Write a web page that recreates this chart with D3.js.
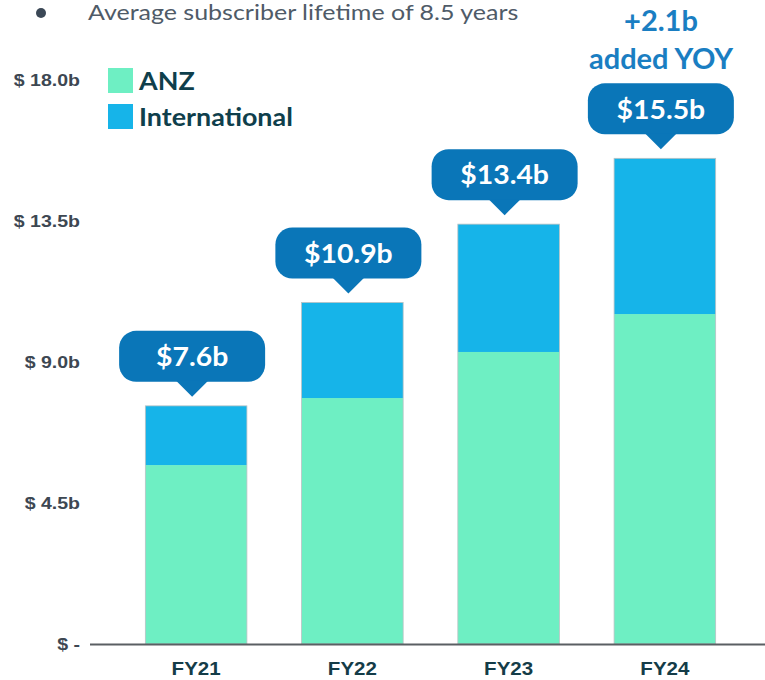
<!DOCTYPE html>
<html>
<head>
<meta charset="utf-8">
<script src="https://cdn.jsdelivr.net/npm/d3@7"></script>
<style>
  html, body { margin: 0; padding: 0; background: #fff; }
  svg { display: block; }
</style>
</head>
<body>
<div id="chart"></div>
<script>
const YEARS = ['FY21', 'FY22', 'FY23', 'FY24'];
const ANZ = [5.71, 7.85, 9.32, 10.53];
const INTERNATIONAL = [1.89, 3.05, 4.08, 4.97];
const TOTAL_LABELS = ['$7.6b', '$10.9b', '$13.4b', '$15.5b'];
const Y_TICKS = [0, 4.5, 9, 13.5, 18];
const Y_TICK_LABELS = ['$ -', '$ 4.5b', '$ 9.0b', '$ 13.5b', '$ 18.0b'];
const SERIES = [
  { name: 'ANZ', values: ANZ, color: '#6eefc3' },
  { name: 'International', values: INTERNATIONAL, color: '#16b4e9' },
];
const HEADLINE = 'Average subscriber lifetime of 8.5 years';
const YOY_LINES = ['+2.1b', 'added YOY'];

const width = 765, height = 680;
const CALLOUT = '#0a76b8';

// the source slide is stretched sideways a little; widen text to match
function stretch(sel, k) {
  sel.each(function() {
    const w = this.getComputedTextLength();
    d3.select(this)
      .attr('textLength', w * k)
      .attr('lengthAdjust', 'spacingAndGlyphs');
  });
}

const svg = d3.select('#chart').append('svg')
  .attr('width', width)
  .attr('height', height);

const x = d3.scaleBand()
  .domain(YEARS)
  .range([118, 743])
  .paddingInner(0.35)
  .paddingOuter(0.175);

const y = d3.scaleLinear()
  .domain([0, 18])
  .range([644, 80]);

// headline bullet
svg.append('circle')
  .attr('cx', 41).attr('cy', 13).attr('r', 5)
  .attr('fill', '#3b4856');
svg.append('text')
  .attr('x', 88).attr('y', 20)
  .attr('font-family', 'Lato, "Open Sans", sans-serif')
  .attr('font-size', 21)
  .attr('fill', '#4f5b68')
  .text(HEADLINE)
  .call(stretch, 1.19);

// y tick labels
svg.append('g')
  .selectAll('text')
  .data(Y_TICKS)
  .join('text')
  .attr('x', 80)
  .attr('y', d => y(d))
  .attr('dy', '0.35em')
  .attr('text-anchor', 'end')
  .attr('font-family', '"Liberation Sans", Arial, sans-serif')
  .attr('font-weight', 'bold')
  .attr('font-size', 16)
  .attr('fill', '#3d4752')
  .text((d, i) => Y_TICK_LABELS[i])
  .call(stretch, 1.22);

// stacked bars
const stacked = d3.stack()
  .keys(SERIES.map(s => s.name))
  (YEARS.map((yr, i) => ({ year: yr, ANZ: ANZ[i], International: INTERNATIONAL[i] })));

stacked.forEach((layer, li) => {
  svg.append('g')
    .selectAll('rect')
    .data(layer)
    .join('rect')
    .attr('x', d => x(d.data.year))
    .attr('y', d => y(d[1]))
    .attr('width', x.bandwidth())
    .attr('height', d => y(d[0]) - y(d[1]))
    .attr('fill', SERIES[li].color);
});

// thin bar outline
svg.append('g')
  .selectAll('rect')
  .data(YEARS)
  .join('rect')
  .attr('x', d => x(d))
  .attr('y', (d, i) => y(ANZ[i] + INTERNATIONAL[i]))
  .attr('width', x.bandwidth())
  .attr('height', (d, i) => y(0) - y(ANZ[i] + INTERNATIONAL[i]))
  .attr('fill', 'none')
  .attr('stroke', '#b9c2c4')
  .attr('stroke-width', 0.8);

// baseline
svg.append('line')
  .attr('x1', 90).attr('x2', width)
  .attr('y1', y(0) + 0.5).attr('y2', y(0) + 0.5)
  .attr('stroke', '#5a5f63')
  .attr('stroke-width', 2);

// x labels
svg.append('g')
  .selectAll('text')
  .data(YEARS)
  .join('text')
  .attr('x', d => x(d) + x.bandwidth() / 2)
  .attr('y', 669)
  .attr('dy', '0.35em')
  .attr('text-anchor', 'middle')
  .attr('font-family', '"Liberation Sans", Arial, sans-serif')
  .attr('font-weight', 'bold')
  .attr('font-size', 18)
  .attr('fill', '#143c48')
  .text(d => d)
  .call(stretch, 1.14);

// callouts
const cw = 146, ch = 51;
const callouts = svg.append('g')
  .selectAll('g')
  .data(YEARS)
  .join('g')
  .attr('transform', (d, i) => {
    const cx = x(d) + x.bandwidth() / 2;
    const top = y(ANZ[i] + INTERNATIONAL[i]);
    return `translate(${cx},${top})`;
  });

callouts.append('rect')
  .attr('x', -cw / 2 - 4)
  .attr('y', -24 - ch)
  .attr('width', cw)
  .attr('height', ch)
  .attr('rx', 17)
  .attr('fill', CALLOUT);

callouts.append('path')
  .attr('d', 'M-20,-25 L-4,-9 L12,-25 Z')
  .attr('fill', CALLOUT);

callouts.append('text')
  .attr('x', -4)
  .attr('y', -24 - ch / 2)
  .attr('dy', '0.36em')
  .attr('text-anchor', 'middle')
  .attr('font-family', 'Lato, "Open Sans", sans-serif')
  .attr('font-weight', 'bold')
  .attr('font-size', 27)
  .attr('fill', '#fff')
  .text((d, i) => TOTAL_LABELS[i])
  .call(stretch, 1.05);

// YOY annotation
svg.append('g')
  .selectAll('text')
  .data(YOY_LINES)
  .join('text')
  .attr('x', 661)
  .attr('y', (d, i) => 31 + i * 38)
  .attr('text-anchor', 'middle')
  .attr('font-family', 'Lato, "Open Sans", sans-serif')
  .attr('font-weight', 'bold')
  .attr('font-size', 29)
  .attr('fill', '#1a7ec2')
  .text(d => d);

// legend
const legend = svg.append('g')
  .selectAll('g')
  .data(SERIES)
  .join('g')
  .attr('transform', (d, i) => `translate(108,${68 + i * 36})`);

legend.append('rect')
  .attr('width', 25).attr('height', 25)
  .attr('fill', d => d.color);

legend.append('text')
  .attr('x', 31).attr('y', 13)
  .attr('dy', '0.36em')
  .attr('font-family', 'Lato, "Open Sans", sans-serif')
  .attr('font-weight', 'bold')
  .attr('font-size', 24)
  .attr('fill', '#0f3f4c')
  .text(d => d.name)
  .call(stretch, 1.12);
</script>
</body>
</html>
